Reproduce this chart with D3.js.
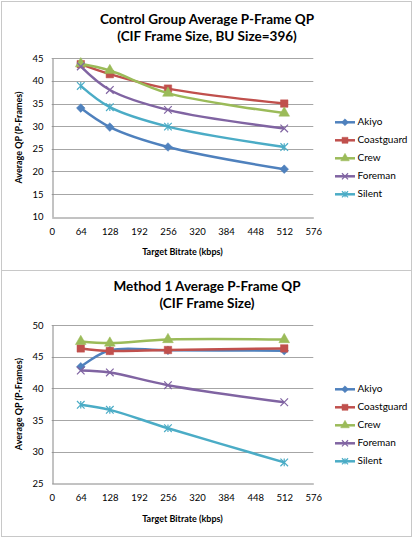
<!DOCTYPE html>
<html>
<head>
<meta charset="utf-8">
<script src="https://cdn.jsdelivr.net/npm/d3@7"></script>
<style>
  body { margin: 0; background: #fff; }
  svg { display: block; font-family: Lato, "Open Sans", sans-serif; }
</style>
</head>
<body>
<div id="chart"></div>
<script>
// data
const bitrates = [64, 128, 256, 512];
const xTicks = [0, 64, 128, 192, 256, 320, 384, 448, 512, 576];
const seqNames = ["Akiyo", "Coastguard", "Crew", "Foreman", "Silent"];
const seqColors = ["#4f81bd", "#c0504d", "#9bbb59", "#8064a2", "#4bacc6"];
const seqMarkers = ["diamond", "square", "triangle", "x", "star"];

const ctrlAkiyo = [34.0, 29.8, 25.4, 20.5];
const ctrlCoastguard = [43.7, 41.5, 38.3, 35.0];
const ctrlCrew = [43.8, 42.3, 37.3, 32.9];
const ctrlForeman = [43.2, 38.0, 33.6, 29.5];
const ctrlSilent = [38.9, 34.2, 29.9, 25.4];
const ctrlYTicks = [10, 15, 20, 25, 30, 35, 40, 45];

const m1Akiyo = [43.4, 46.0, 46.0, 45.95];
const m1Coastguard = [46.3, 45.9, 46.05, 46.3];
const m1Crew = [47.4, 47.15, 47.7, 47.7];
const m1Foreman = [42.8, 42.5, 40.5, 37.8];
const m1Silent = [37.4, 36.6, 33.7, 28.3];
const m1YTicks = [25, 30, 35, 40, 45, 50];

const W = 417, H = 542;
const svg = d3.select("#chart").append("svg").attr("width", W).attr("height", H);

function drawChart(opt) {
  const g = svg.append("g");
  g.append("rect").attr("x", opt.box[0]).attr("y", opt.box[1]).attr("width", opt.box[2]).attr("height", opt.box[3])
    .attr("fill", "#fff").attr("stroke", "#c8c8c8").attr("stroke-width", 1);

  const x = d3.scaleLinear().domain([0, 576]).range([51.7, 313.3]);
  const y = d3.scaleLinear().domain(d3.extent(opt.yTicks)).range([opt.plotBottom, opt.plotTop]);

  // title
  opt.title.forEach((t, i) => {
    g.append("text").attr("x", 207).attr("y", opt.titleY + i * 16.7).attr("text-anchor", "middle")
      .attr("dominant-baseline", "middle").style("font-size", "13.5px").style("font-weight", "700").attr("fill", "#000").text(t);
  });

  // gridlines
  g.append("g").selectAll("line").data(opt.yTicks.slice(1)).join("line")
    .attr("x1", x(0)).attr("x2", x(576)).attr("y1", d => Math.round(y(d)) + 0.5).attr("y2", d => Math.round(y(d)) + 0.5)
    .attr("stroke", "#a6a6a6").attr("stroke-width", 1);

  // axes
  const ya = g.append("g").attr("transform", `translate(${Math.round(x(0)) + 0.5},0)`)
    .call(d3.axisLeft(y).tickValues(opt.yTicks).tickSize(0).tickPadding(9));
  ya.select(".domain").attr("stroke", "#868686");
  ya.selectAll("text").style("font-size", "9.5px").attr("fill", "#000").style("font-family", "Lato, sans-serif");

  const xa = g.append("g").attr("transform", `translate(0,${Math.round(y(opt.yTicks[0])) + 0.5})`)
    .call(d3.axisBottom(x).tickValues(xTicks).tickSize(0).tickPadding(11));
  xa.select(".domain").attr("stroke", "#868686");
  xa.selectAll("text").style("font-size", "9.5px").attr("fill", "#000").style("font-family", "Lato, sans-serif");

  // axis titles
  g.append("text").attr("x", 182.5).attr("y", opt.xTitleY).attr("text-anchor", "middle").attr("dominant-baseline", "middle")
    .style("font-size", "9px").style("font-weight", "700").text("Target Bitrate (kbps)");
  g.append("text").attr("transform", `translate(20,${(opt.plotTop + opt.plotBottom) / 2}) rotate(-90)`)
    .attr("text-anchor", "middle").attr("dominant-baseline", "middle")
    .style("font-size", "9px").style("font-weight", "700").text("Average QP (P-Frames)");

  const line = d3.line().x((d, i) => x(bitrates[i])).y(d => y(d)).curve(d3.curveCatmullRom.alpha(0.5));

  opt.series.forEach((vals, si) => {
    const c = seqColors[si];
    g.append("path").datum(vals).attr("d", line).attr("fill", "none").attr("stroke", c).attr("stroke-width", 2.5);
    vals.forEach((v, i) => marker(g, x(bitrates[i]), y(v), seqMarkers[si], c));
  });

  // legend
  seqNames.forEach((n, i) => {
    const ly = opt.legendY + i * 18;
    g.append("line").attr("x1", 335).attr("x2", 355).attr("y1", ly).attr("y2", ly).attr("stroke", seqColors[i]).attr("stroke-width", 2.5);
    marker(g, 345, ly, seqMarkers[i], seqColors[i], 0.8);
    g.append("text").attr("x", 357.5).attr("y", ly).attr("dominant-baseline", "middle")
      .style("font-size", "10px").attr("fill", "#000").text(n);
  });
}

function marker(g, cx, cy, type, color, s = 1) {
  const r = 3.8 * s;
  if (type === "x" || type === "star") {
    const p = d3.path();
    p.moveTo(cx - r, cy - r); p.lineTo(cx + r, cy + r);
    p.moveTo(cx - r, cy + r); p.lineTo(cx + r, cy - r);
    if (type === "star") { p.moveTo(cx, cy - r); p.lineTo(cx, cy + r); }
    g.append("path").attr("d", p.toString()).attr("stroke", color).attr("stroke-width", 1.2).attr("fill", "none");
    return;
  }
  const sym = { diamond: d3.symbolDiamond2, square: d3.symbolSquare, triangle: d3.symbolTriangle }[type];
  const size = { diamond: 48, square: 56, triangle: 50 }[type] * s * s;
  g.append("path").attr("d", d3.symbol(sym, size)()).attr("transform", `translate(${cx},${cy})`)
    .attr("fill", color).attr("stroke", color).attr("stroke-width", 0.5);
}

drawChart({
  box: [1.5, 1.5, 410, 269],
  title: ["Control Group Average P-Frame QP", "(CIF Frame Size, BU Size=396)"],
  titleY: 20.7,
  yTicks: ctrlYTicks,
  plotTop: 58.3, plotBottom: 216.7,
  xTitleY: 252.3,
  legendY: 122.3,
  series: [ctrlAkiyo, ctrlCoastguard, ctrlCrew, ctrlForeman, ctrlSilent]
});

drawChart({
  box: [1.5, 270.5, 410, 266],
  title: ["Method 1 Average P-Frame QP", "(CIF Frame Size)"],
  titleY: 287.7,
  yTicks: m1YTicks,
  plotTop: 325, plotBottom: 483.3,
  xTitleY: 519.3,
  legendY: 389.3,
  series: [m1Akiyo, m1Coastguard, m1Crew, m1Foreman, m1Silent]
});
</script>
</body>
</html>
